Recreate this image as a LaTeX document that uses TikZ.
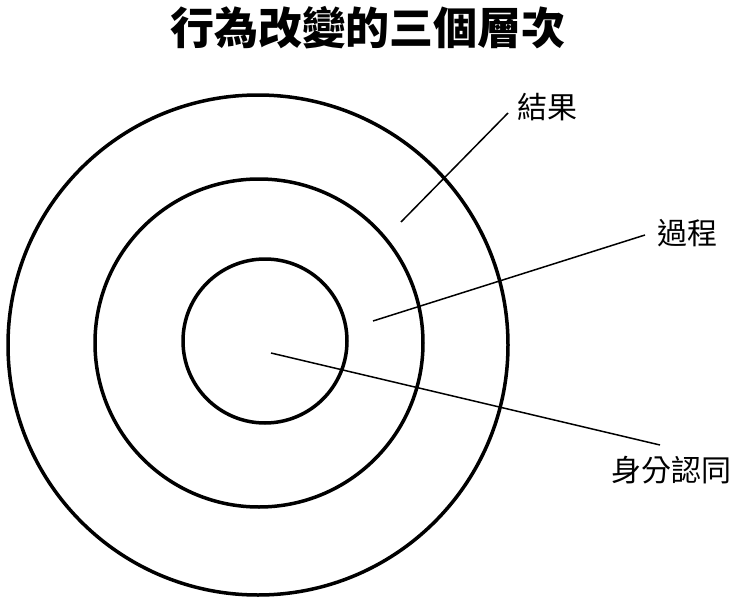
\documentclass[tikz,border=0pt]{standalone}
\usepackage{fontspec}
\newfontfamily\cjk{Noto Sans CJK TC}
\usepackage{tikz}

\begin{document}
\begin{tikzpicture}[x=1pt,y=-1pt,
        ring/.style={circle,draw=black,line width=3.5pt,inner sep=0,minimum size=#1},
        lbl/.style={inner sep=0,font=\cjk\fontsize{30}{30}\selectfont},
        lead/.style={draw=black,line width=1.5pt}]
        \useasboundingbox (0,0) rectangle (740,605);
        \node[inner sep=0,font=\cjk\bfseries\fontsize{44}{44}\selectfont] (title) at (368,28) {行為改變的三個層次};
        % the three rings
        \node[ring=500pt] (outer)  at (258,345) {};
        \node[ring=328pt] (middle) at (259,343) {};
        \node[ring=164pt] (inner)  at (265,341) {};
        % labels
        \node[lbl] (result)   at (547,107) {結果};
        \node[lbl] (process)  at (687,233) {過程};
        \node[lbl] (identity) at (671,470) {身分認同};
        \coordinate (resultin)    at (401,222);
        \coordinate (resultout)   at (508,113);
        \coordinate (processin)   at (373,321);
        \coordinate (processout)  at (645,235);
        \coordinate (identityin)  at (271,353);
        \coordinate (identityout) at (660,445);
        \path[lead]
          (resultin) edge (resultout)
          (processin) edge (processout)
          (identityin) edge (identityout)
          ;
      \end{tikzpicture}
\end{document}
